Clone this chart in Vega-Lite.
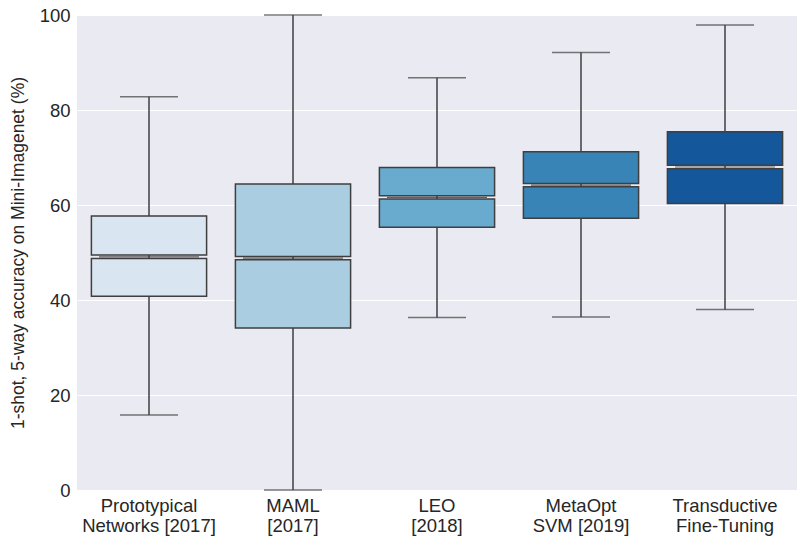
{
  "$schema": "https://vega.github.io/schema/vega-lite/v6.json",
  "width": 720,
  "height": 475,
  "autosize": "none",
  "padding": {"left": 77, "top": 15, "right": 8, "bottom": 57},
  "background": "white",
  "config": {
    "view": {"fill": "#EAEAF2", "stroke": null},
    "font": "Liberation Sans",
    "axis": {"domain": false, "ticks": false, "labelFont": "Liberation Sans", "titleFont": "Liberation Sans", "labelColor": "#262626", "titleColor": "#262626", "labelFontSize": 18.5, "titleFontSize": 17.5, "titleFontWeight": "normal"}
  },
  "data": {
    "values": [
      {"method": "Prototypical|Networks [2017]", "wlo": 15.8, "q1": 40.8, "med": 49.1, "q3": 57.7, "whi": 82.8},
      {"method": "MAML|[2017]", "wlo": 0, "q1": 34.1, "med": 48.8, "q3": 64.4, "whi": 100},
      {"method": "LEO|[2018]", "wlo": 36.3, "q1": 55.3, "med": 61.6, "q3": 67.9, "whi": 86.8},
      {"method": "MetaOpt|SVM [2019]", "wlo": 36.4, "q1": 57.2, "med": 64.2, "q3": 71.2, "whi": 92.1},
      {"method": "Transductive|Fine-Tuning", "wlo": 38.0, "q1": 60.3, "med": 68.0, "q3": 75.4, "whi": 97.9}
    ]
  },
  "encoding": {
    "x": {
      "field": "method", "type": "nominal", "sort": null,
      "scale": {"paddingInner": 0, "paddingOuter": 0},
      "axis": {"title": null, "labelAngle": 0, "labelPadding": 6, "grid": false, "labelExpr": "split(datum.label, '|')", "labelLineHeight": 20, "labelBaseline": "top"}
    }
  },
  "layer": [
    {
      "mark": {"type": "rule", "color": "#3f3f3f", "strokeWidth": 1.5},
      "encoding": {
        "y": {"field": "wlo", "type": "quantitative", "scale": {"domain": [0, 100], "nice": false},
          "axis": {"title": "1-shot, 5-way accuracy on Mini-Imagenet (%)", "values": [0, 20, 40, 60, 80, 100], "grid": true, "gridColor": "white", "gridWidth": 1.2, "labelPadding": 7, "titlePadding": 12}},
        "y2": {"field": "whi"}
      }
    },
    {
      "mark": {"type": "tick", "color": "#3f3f3f", "thickness": 1.5, "size": 58},
      "encoding": {"y": {"field": "wlo", "type": "quantitative"}}
    },
    {
      "mark": {"type": "tick", "color": "#3f3f3f", "thickness": 1.5, "size": 58},
      "encoding": {"y": {"field": "whi", "type": "quantitative"}}
    },
    {
      "transform": [{"calculate": "datum.med - 0.35", "as": "lo_top"}],
      "mark": {"type": "bar", "width": {"band": 0.8}, "stroke": "#3f3f3f", "strokeWidth": 1.5},
      "encoding": {
        "y": {"field": "q1", "type": "quantitative"},
        "y2": {"field": "lo_top"},
        "color": {"field": "method", "type": "nominal", "sort": null, "legend": null,
          "scale": {"range": ["#d9e6f1", "#abcde1", "#69aacf", "#3884b6", "#14579a"]}}
      }
    },
    {
      "transform": [{"calculate": "datum.med + 0.35", "as": "hi_bot"}],
      "mark": {"type": "bar", "width": {"band": 0.8}, "stroke": "#3f3f3f", "strokeWidth": 1.5},
      "encoding": {
        "y": {"field": "hi_bot", "type": "quantitative"},
        "y2": {"field": "q3"},
        "color": {"field": "method", "type": "nominal", "sort": null, "legend": null}
      }
    },
    {
      "mark": {"type": "tick", "color": "#3f3f3f", "thickness": 1.2, "size": 100, "opacity": 0.8},
      "encoding": {"y": {"field": "med", "type": "quantitative"}}
    }
  ]
}
